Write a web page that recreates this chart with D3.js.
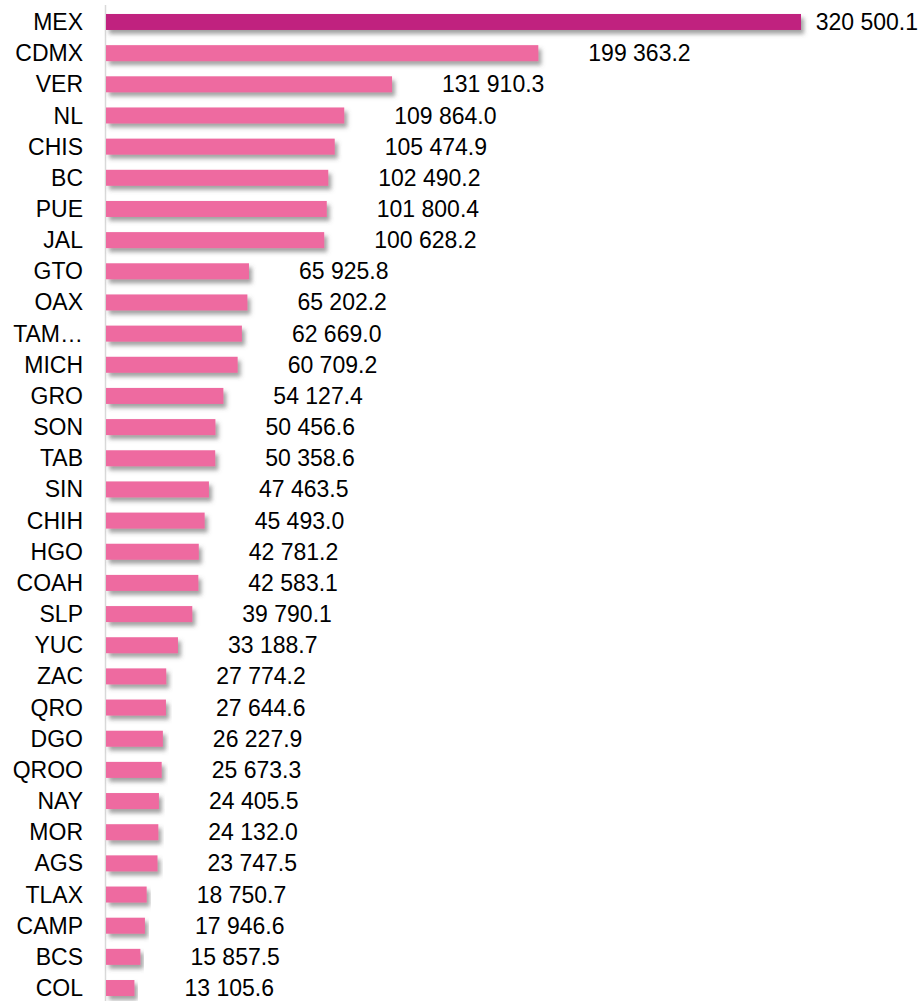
<!DOCTYPE html>
<html>
<head>
<meta charset="utf-8">
<script src="https://cdn.jsdelivr.net/npm/d3@7"></script>
<style>
    body { margin: 0; background: #fff; }
    text { font-family: "Liberation Sans", Arial, sans-serif; fill: #000; }
</style>
</head>
<body>
<div class="chart"></div>
<script>
// estados y valores
var states = ['MEX', 'CDMX', 'VER', 'NL', 'CHIS', 'BC', 'PUE', 'JAL', 'GTO', 'OAX', 'TAM\u2026', 'MICH',
    'GRO', 'SON', 'TAB', 'SIN', 'CHIH', 'HGO', 'COAH', 'SLP', 'YUC', 'ZAC', 'QRO', 'DGO', 'QROO',
    'NAY', 'MOR', 'AGS', 'TLAX', 'CAMP', 'BCS', 'COL'];
var values = [320500.1, 199363.2, 131910.3, 109864.0, 105474.9, 102490.2, 101800.4, 100628.2,
    65925.8, 65202.2, 62669.0, 60709.2, 54127.4, 50456.6, 50358.6, 47463.5, 45493.0, 42781.2,
    42583.1, 39790.1, 33188.7, 27774.2, 27644.6, 26227.9, 25673.3, 24405.5, 24132.0, 23747.5,
    18750.7, 17946.6, 15857.5, 13105.6];

var width = 922,
    height = 1001,
    left = 106,
    barH = 16;

var data = states.map(function(s, i) { return { name: s, value: values[i] }; });

var x = d3.scaleLinear().domain([0, 320500.1]).range([left, 801]);
var y = d3.scaleBand().domain(states).range([6.4, 1003.6]);

var fmt = function(v) { return d3.format(',.1f')(v).replace(/,/g, ' '); };

var svg = d3.select('.chart').append('svg')
    .attr('width', width)
    .attr('height', height);

var defs = svg.append('defs');
defs.append('filter')
    .attr('id', 'shadow')
    .attr('x', '-5%').attr('y', '-50%').attr('width', '115%').attr('height', '250%')
    .append('feDropShadow')
    .attr('dx', 3).attr('dy', 4)
    .attr('stdDeviation', 2)
    .attr('flood-color', '#555')
    .attr('flood-opacity', 0.55);

// eje
svg.append('line')
    .attr('x1', left - 0.5).attr('x2', left - 0.5)
    .attr('y1', 5).attr('y2', height)
    .attr('stroke', '#d9d9d9')
    .attr('stroke-width', 1.5);

svg.append('g').selectAll('rect')
    .data(data)
    .enter().append('rect')
    .attr('x', left)
    .attr('y', function(d) { return y(d.name) + y.bandwidth() / 2 - barH / 2; })
    .attr('width', function(d) { return x(d.value) - left; })
    .attr('height', barH)
    .attr('fill', function(d, i) { return i == 0 ? '#c0227f' : '#ee6aa0'; })
    .attr('filter', 'url(#shadow)');

svg.append('g').selectAll('text')
    .data(data)
    .enter().append('text')
    .attr('x', 83)
    .attr('y', function(d) { return y(d.name) + y.bandwidth() / 2; })
    .attr('dy', '0.35em')
    .attr('text-anchor', 'end')
    .style('font-size', '23px')
    .text(function(d) { return d.name; });

var labels = svg.append('g').selectAll('text')
    .data(data)
    .enter().append('text')
    .attr('y', function(d) { return y(d.name) + y.bandwidth() / 2; })
    .attr('dy', '0.35em')
    .style('font-size', '23px')
    .text(function(d) { return fmt(d.value); });

labels.attr('x', function(d) {
    var w = this.getComputedTextLength();
    return Math.min(x(d.value) + 50, 918 - w);
});
</script>
</body>
</html>
